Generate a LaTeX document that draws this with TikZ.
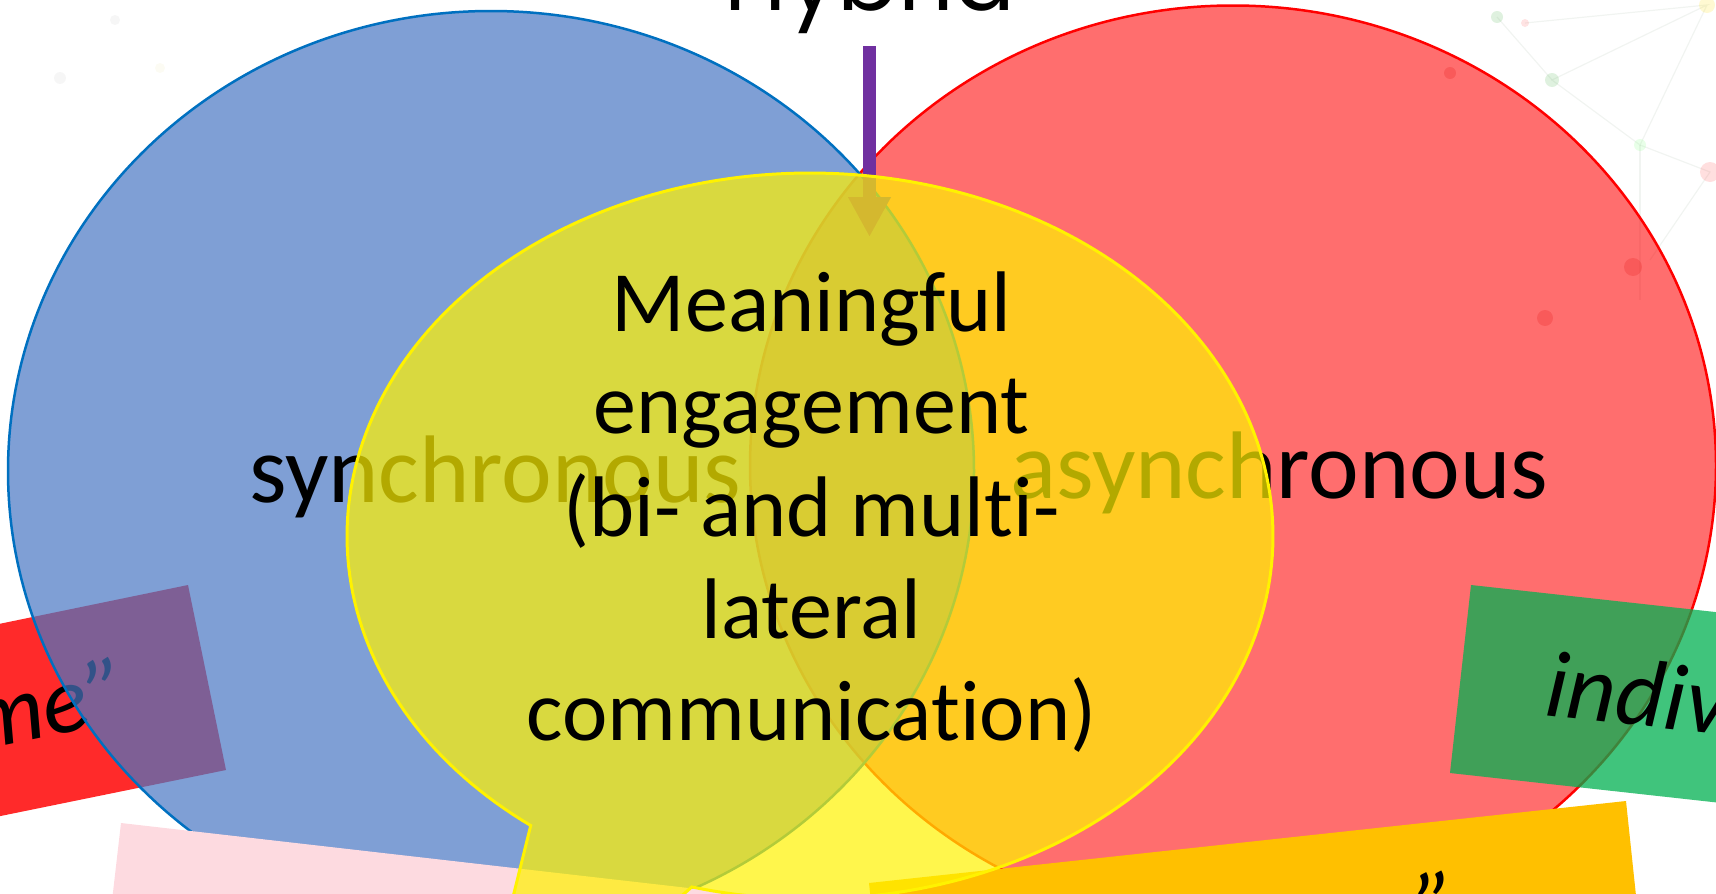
\documentclass[tikz,border=0pt]{standalone}
\usepackage{fontspec}
\setmainfont{Carlito}[Ligatures=NoCommon]
\newfontfamily\hybridfont{Poppins}
\usetikzlibrary{arrows.meta}
\definecolor{bluefill}{RGB}{72,118,195}
\definecolor{blueline}{RGB}{0,112,192}
\definecolor{notered}{RGB}{255,42,42}
\definecolor{notepink}{RGB}{253,218,224}
\definecolor{noteorange}{RGB}{255,192,0}
\definecolor{notegreen}{RGB}{0,176,80}
\definecolor{arrowpurple}{RGB}{112,48,160}
\definecolor{bgline}{RGB}{200,210,200}
\begin{document}
\begin{tikzpicture}[x=1pt,y=-1pt,
  sidetext/.style={font=\fontsize{96}{116}\selectfont, inner sep=0pt, anchor=base west},
  midtext/.style={font=\fontsize{86}{104}\selectfont, inner sep=0pt, anchor=base},
  notetext/.style={font=\fontsize{95}{115}\selectfont\itshape, inner sep=0pt, anchor=base west},
  bgdot/.style={opacity=0.18},
  faintdot/.style={opacity=0.07},
  bgedge/.style={draw=bgline, line width=1.2pt, opacity=0.25}]
\useasboundingbox (0,0) rectangle (1716,894);
\clip (0,0) rectangle (1716,894);
% faint background network
\draw[bgedge] (1525,23) -- (1707,5) -- (1552,80) -- (1640,145) -- (1707,5);
\draw[bgedge] (1640,145) -- (1710,172) -- (1650,260);
\draw[bgedge] (1640,145) -- (1640,300);
\draw[bgedge] (1497,17) -- (1552,80);
\fill[bgdot, green!40!gray] (1497,17) circle (6pt);
\fill[bgdot, red!60] (1525,23) circle (4pt);
\fill[bgdot, green!40!gray] (1552,80) circle (7pt);
\fill[bgdot, green!50] (1640,145) circle (6pt);
\fill[bgdot, red!70] (1710,172) circle (10pt);
\fill[bgdot, yellow!80!orange] (1707,5) circle (8pt);
\fill[bgdot, red!70!black] (1633,267) circle (9pt);
\fill[bgdot, red!70!black] (1545,318) circle (8pt);
\fill[bgdot, red!70!black] (1450,73) circle (6pt);
\fill[faintdot, gray] (60,78) circle (6pt);
\fill[faintdot, gray] (115,20) circle (5pt);
\fill[faintdot, yellow!60!gray] (160,68) circle (5pt);
% left red note (under the blue circle)
\fill[notered] (188,585) -- (226,770) -- (-264,870) -- (-302,686) -- cycle;
\node[notetext, rotate=11.6] (metext) at (-25,752) {me”};
% circles
\draw[red, line width=2.5pt, fill=red, fill opacity=0.57] (1233,465.5) ellipse [x radius=483pt, y radius=460pt];
\draw[blueline, line width=2.5pt, fill=bluefill, fill opacity=0.7] (491,471) ellipse [x radius=483pt, y radius=460pt];
% other notes
\fill[notepink] (121,823) -- (767,897) -- (744,1096) -- (98,1022) -- cycle;
\fill[noteorange] (869,883) -- (1626,801) -- (1647,1000) -- (890,1082) -- cycle;
\node[notetext, rotate=6.2] (quotetext) at (1420,940) {”};
\fill[notegreen, opacity=0.75] (1471,585) -- (1869,629) -- (1848,817) -- (1450,773) -- cycle;
\node[notetext, rotate=-6.3] (indivtext) at (1543,715) {indiv};
% side labels
\node[sidetext] (sync) at (249,502) {synchronous};
\node[sidetext] (async) at (1010,498) {asynchronous};
% arrow from Hybrid
\coordinate (arrowstart) at (869.5,46);
\coordinate (arrowtip) at (869.5,237);
\draw[arrowpurple, line width=13pt, -{Triangle[length=40pt,width=40pt]}] (arrowstart) -- (arrowtip);
% yellow oval callout
\coordinate (callouttip) at (466,1087);
\draw[yellow, line width=3pt, fill=yellow, fill opacity=0.7]
  plot[domain=127.1:464.8, samples=240, variable=\t] ({810+463*cos(\t)},{536+363*sin(\t)})
  -- (callouttip) -- cycle;
% centre text
\node[midtext] (c1) at (811.5,331) {Meaningful};
\node[midtext] (c2) at (811.5,433) {engagement};
\node[midtext] (c3) at (811.5,536) {(bi- and multi-};
\node[midtext] (c4) at (811.5,638) {lateral};
\node[midtext] (c5) at (811.5,740) {communication)};
% title
\node[font=\hybridfont\fontsize{90}{110}\selectfont, inner sep=0pt, anchor=base] (hybrid) at (870,10) {Hybrid};
\end{tikzpicture}
\end{document}
